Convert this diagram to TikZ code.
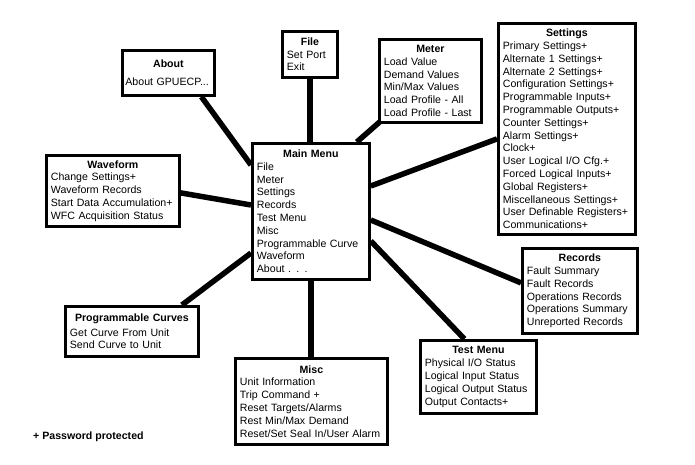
\documentclass[tikz,border=0pt]{standalone}
\usepackage{fontspec}
\setmainfont{Liberation Sans}
\usetikzlibrary{backgrounds}
\newcommand\mtitle[1]{\makebox[\linewidth]{\bfseries #1}}
\tikzset{
  menu/.style={draw=black, line width=2.8pt, fill=white, anchor=north west,
    inner xsep=4.5pt, inner ysep=0pt, align=left,
    font=\fontsize{10.6pt}{12.8pt}\selectfont},
  link/.style={line width=5.5pt, draw=black}
}
\begin{document}
\begin{tikzpicture}[x=1pt,y=-1pt]
\useasboundingbox (0,0) rectangle (695,465);
\node[menu, inner xsep=3pt, text width=86pt, minimum width=92pt, minimum height=45pt] (about) at (121,49)
  {\mtitle{About}\\[5pt]\mbox{About GPUECP...}};
\node[menu, text width=46pt, minimum width=55pt, minimum height=46pt] (file) at (281,30)
  {\mtitle{File}\\Set Port\\Exit};
\node[menu, text width=124pt, minimum width=133pt, minimum height=71pt] (waveform) at (45,154)
  {\mtitle{Waveform}\\Change Settings+\\Waveform Records\\Start Data Accumulation+\\WFC Acquisition Status};
\node[menu, text width=108pt, minimum width=117pt, minimum height=136pt] (main) at (251,142)
  {\mtitle{Main Menu}\\File\\Meter\\Settings\\Records\\Test Menu\\Misc\\Programmable Curve\\Waveform\\About . . .};
\node[menu, text width=93pt, minimum width=102pt, minimum height=83pt] (meter) at (378,38)
  {\mtitle{Meter}\\Load Value\\Demand Values\\Min/Max Values\\Load Profile - All\\Load Profile - Last};
\node[menu, text width=128pt, minimum width=137pt, minimum height=211pt] (settings) at (497,22)
  {\mtitle{Settings}\\Primary Settings+\\Alternate 1 Settings+\\Alternate 2 Settings+\\Configuration Settings+\\Programmable Inputs+\\Programmable Outputs+\\Counter Settings+\\Alarm Settings+\\Clock+\\User Logical I/O Cfg.+\\Forced Logical Inputs+\\Global Registers+\\Miscellaneous Settings+\\User Definable Registers+\\Communications+};
\node[menu, text width=124pt, minimum width=133pt, minimum height=50pt] (prog) at (64,305)
  {\mtitle{Programmable Curves}\\[2pt]Get Curve From Unit\\Send Curve to Unit};
\node[menu, text width=143pt, minimum width=152pt, minimum height=86pt] (misc) at (234,357)
  {\mtitle{Misc}\\Unit Information\\Trip Command +\\Reset Targets/Alarms\\Rest Min/Max Demand\\Reset/Set Seal In/User Alarm};
\node[menu, text width=106pt, minimum width=115pt, minimum height=85pt] (records) at (521,247)
  {\mtitle{Records}\\Fault Summary\\Fault Records\\Operations Records\\Operations Summary\\Unreported Records};
\node[menu, text width=107pt, minimum width=116pt, minimum height=73pt] (test) at (419,339)
  {\mtitle{Test Menu}\\Physical I/O Status\\Logical Input Status\\Logical Output Status\\Output Contacts+};
\node[anchor=west, inner sep=0pt, font=\fontsize{10.6pt}{12.8pt}\selectfont\bfseries] (note) at (33,437) {+ Password protected};
\begin{scope}[on background layer]
\draw[link] ([xshift=33pt]about.south) -- ([yshift=-23pt]main.north west);
\draw[link] (file.south) -- (file.south |- main.north);
\draw[link] ([yshift=-2pt]waveform.east) -- ([yshift=-63pt]main.north west);
\draw[link] ([xshift=3pt,yshift=3pt]meter.south west) -- ([xshift=-14pt]main.north east);
\draw[link] ([yshift=-10pt]settings.west) -- ([yshift=-44pt]main.north east);
\draw[link] ([yshift=-78pt]main.north east) -- ([yshift=8pt]records.west);
\draw[link] ([yshift=-99pt]main.north east) -- ([xshift=-14pt]test.north);
\draw[link] ([yshift=-111pt]main.north west) -- ([xshift=50pt]prog.north);
\draw[link] (main.south) -- (main.south |- misc.north);
\end{scope}
\end{tikzpicture}
\end{document}
